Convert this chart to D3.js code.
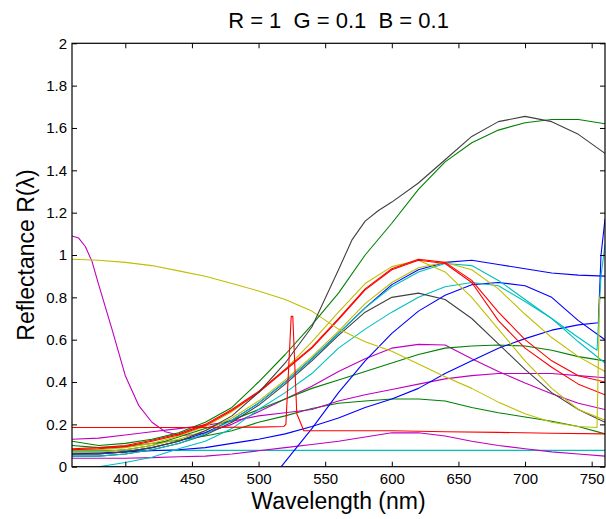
<!DOCTYPE html>
<html><head><meta charset="utf-8">
<script src="https://cdn.jsdelivr.net/npm/d3@7"></script>
<style>
body{margin:0;background:#fff}
svg{display:block}
text{font-family:"Liberation Sans",Arial,Helvetica,sans-serif;fill:#000;white-space:pre}
</style></head>
<body><svg id="chart" width="606" height="519"></svg>
<script>
// ---- data ----
const titleText = "R = 1  G = 0.1  B = 0.1";
const xLabel = "Wavelength (nm)";
const yLabel = "Reflectance R(\u03bb)";
const xTicks = [400,450,500,550,600,650,700,750];
const yTicks = [0,0.2,0.4,0.6,0.8,1,1.2,1.4,1.6,1.8,2];

const wl = [360,380,400,420,440,460,480,500,520,540,560,580,600,620,640,660,680,700,720,740,760];

const green1 = [0.12,0.10,0.11,0.13,0.16,0.21,0.28,0.40,0.53,0.67,0.82,1.00,1.15,1.31,1.44,1.53,1.59,1.625,1.64,1.64,1.62];
const green2 = [0.07,0.07,0.08,0.10,0.14,0.18,0.22,0.27,0.32,0.37,0.41,0.45,0.49,0.53,0.56,0.57,0.575,0.57,0.55,0.52,0.50];
const green3 = [0.10,0.09,0.095,0.11,0.125,0.145,0.17,0.21,0.24,0.275,0.30,0.31,0.32,0.32,0.31,0.28,0.255,0.235,0.215,0.19,0.155];
const magenta3 = [0.13,0.135,0.15,0.165,0.18,0.195,0.215,0.24,0.255,0.27,0.31,0.34,0.365,0.39,0.415,0.43,0.44,0.44,0.44,0.43,0.42];
const magenta4 = [0.04,0.04,0.04,0.043,0.047,0.05,0.06,0.075,0.09,0.105,0.12,0.14,0.16,0.16,0.145,0.12,0.10,0.085,0.07,0.06,0.05];
const cyanFlat = [0.077,0.077,0.077,0.077,0.077,0.077,0.077,0.077,0.077,0.077,0.077,0.077,0.077,0.077,0.077,0.077,0.077,0.077,0.077,0.077,0.077];
const red1   = [0.085,0.09,0.10,0.125,0.155,0.20,0.27,0.355,0.46,0.565,0.70,0.84,0.935,0.98,0.965,0.88,0.73,0.60,0.50,0.43,0.40];
const red2   = [0.08,0.085,0.095,0.12,0.15,0.195,0.265,0.35,0.455,0.56,0.695,0.835,0.93,0.975,0.96,0.87,0.69,0.56,0.47,0.39,0.34];
const yellow2 = [0.08,0.08,0.09,0.11,0.145,0.19,0.26,0.35,0.46,0.59,0.73,0.865,0.945,0.975,0.92,0.80,0.65,0.50,0.37,0.27,0.22];
const yellow3 = [0.07,0.07,0.08,0.10,0.13,0.17,0.23,0.31,0.41,0.52,0.64,0.77,0.87,0.94,0.965,0.93,0.84,0.72,0.61,0.52,0.45];
const blue3  = [0.06,0.06,0.07,0.09,0.12,0.16,0.22,0.30,0.40,0.51,0.63,0.75,0.86,0.93,0.965,0.975,0.955,0.935,0.915,0.905,0.90];
const gray2  = [0.05,0.05,0.06,0.08,0.11,0.15,0.21,0.29,0.39,0.50,0.62,0.73,0.80,0.82,0.79,0.70,0.58,0.46,0.35,0.27,0.21];

// series with their own wavelength samples
const wlGray1 = [360,380,400,420,440,460,480,500,520,540,560,570,580,590,600,620,640,660,680,700,720,740,760];
const gray1   = [0.06,0.06,0.07,0.09,0.12,0.17,0.24,0.35,0.49,0.66,0.93,1.07,1.16,1.21,1.25,1.34,1.45,1.56,1.63,1.655,1.63,1.57,1.48];

const wlYellow1 = [360,380,400,420,440,460,480,500,520,540,560,580,600,620,640,660,680,700,720,740,754,756,760];
const yellow1   = [0.98,0.975,0.965,0.95,0.925,0.90,0.865,0.83,0.79,0.735,0.65,0.59,0.545,0.485,0.425,0.37,0.305,0.25,0.21,0.19,0.185,0.8,0.8];

const wlMagenta2 = [360,365,370,375,380,390,400,410,420,430,440,450,460,480,500,520,540,560,580,600,620,640,660,680,700,720,740,760];
const magenta2   = [1.09,1.08,1.04,0.97,0.86,0.65,0.43,0.29,0.21,0.165,0.15,0.15,0.16,0.20,0.26,0.32,0.38,0.45,0.51,0.56,0.578,0.575,0.51,0.45,0.395,0.345,0.30,0.27];

const wlRedSpike = [360,400,450,500,519,520.5,524.5,525.7,528.7,534,560,600,640,680,720,760];
const redSpike   = [0.185,0.185,0.185,0.187,0.19,0.2,0.71,0.71,0.25,0.17,0.17,0.17,0.165,0.162,0.158,0.155];

const wlBlue1 = [517,540,560,580,600,620,640,660,680,700,720,740,760];
const blue1   = [0,0.18,0.35,0.50,0.63,0.735,0.81,0.86,0.87,0.855,0.80,0.69,0.60];

const wlBlue2 = [360,380,400,420,440,460,480,500,520,540,560,580,600,620,640,660,680,700,720,740,755,757,760];
const blue2   = [0.06,0.065,0.07,0.075,0.08,0.09,0.11,0.13,0.155,0.19,0.23,0.28,0.32,0.37,0.44,0.50,0.56,0.605,0.645,0.67,0.68,1.0,1.17];

const wlCyan2 = [360,380,400,420,440,460,480,500,520,540,560,580,600,620,640,660,680,700,720,740,754,757,760];
const cyan2   = [0.05,0.05,0.06,0.08,0.11,0.155,0.22,0.30,0.40,0.51,0.63,0.75,0.85,0.92,0.96,0.95,0.88,0.79,0.70,0.61,0.55,0.9,1.05];

const wlCyan3 = [370,380,400,420,440,460,480,500,520,540,560,580,600,620,640,660,680,700,720,740,760];
const cyan3   = [-0.02,0,0.02,0.045,0.085,0.12,0.18,0.27,0.35,0.44,0.56,0.65,0.73,0.80,0.85,0.87,0.855,0.78,0.70,0.59,0.49];

// MATLAB classic colour order
const C = {b:"#0000ff", g:"#008000", r:"#ff0000", c:"#00bfbf", m:"#bf00bf", y:"#bfbf00", k:"#404040"};

const series = [
  {x: wl, y: cyanFlat, color: C.c},
  {x: wl, y: magenta4, color: C.m},
  {x: wl, y: green3, color: C.g},
  {x: wl, y: magenta3, color: C.m},
  {x: wlMagenta2, y: magenta2, color: C.m},
  {x: wl, y: green2, color: C.g},
  {x: wlBlue2, y: blue2, color: C.b},
  {x: wlBlue1, y: blue1, color: C.b},
  {x: wlCyan3, y: cyan3, color: C.c},
  {x: wl, y: gray2, color: C.k},
  {x: wl, y: blue3, color: C.b},
  {x: wlCyan2, y: cyan2, color: C.c},
  {x: wl, y: yellow3, color: C.y},
  {x: wl, y: yellow2, color: C.y},
  {x: wl, y: red2, color: C.r},
  {x: wl, y: red1, color: C.r},
  {x: wlYellow1, y: yellow1, color: C.y},
  {x: wl, y: green1, color: C.g},
  {x: wlGray1, y: gray1, color: C.k},
  {x: wlRedSpike, y: redSpike, color: C.r}
];

// ---- layout ----
const svg = d3.select("#chart");
const L = 72, R = 605, T = 43.3, B = 466.7;
const xs = d3.scaleLinear().domain([360,760]).range([L,R]);
const ys = d3.scaleLinear().domain([0,2]).range([B,T]);

svg.append("defs").append("clipPath").attr("id","clip")
  .append("rect").attr("x",L).attr("y",T).attr("width",R-L).attr("height",B-T);

const line = d3.line().x(d=>xs(d[0])).y(d=>ys(d[1]));
const plotG = svg.append("g").attr("clip-path","url(#clip)");
series.forEach(s=>{
  plotG.append("path").datum(s.x.map((v,i)=>[v,s.y[i]]))
    .attr("d",line).attr("fill","none").attr("stroke",s.color).attr("stroke-width",1.1)
    .attr("stroke-linejoin","round");
});

// axes
const fmt = d=>d3.format("~g")(d);
const tl = 5;
const axB = svg.append("g").attr("transform",`translate(0,${B})`)
  .call(d3.axisBottom(xs).tickValues(xTicks).tickSizeInner(-tl).tickSizeOuter(0).tickPadding(7).tickFormat(fmt));
const axT = svg.append("g").attr("transform",`translate(0,${T})`)
  .call(d3.axisTop(xs).tickValues(xTicks).tickSizeInner(-tl).tickSizeOuter(0).tickFormat(""));
const axL = svg.append("g").attr("transform",`translate(${L},0)`)
  .call(d3.axisLeft(ys).tickValues(yTicks).tickSizeInner(-tl).tickSizeOuter(0).tickPadding(5).tickFormat(fmt));
const axR = svg.append("g").attr("transform",`translate(${R},0)`)
  .call(d3.axisRight(ys).tickValues(yTicks).tickSizeInner(-tl).tickSizeOuter(0).tickFormat(""));
[axB,axT,axL,axR].forEach(a=>{
  a.select(".domain").remove();
  a.selectAll(".tick line").attr("stroke","#000").attr("stroke-width",1);
  a.selectAll(".tick text").attr("font-size",15).attr("font-family","'Liberation Sans',Arial,sans-serif").attr("fill","#000");
});
svg.append("rect").attr("x",L).attr("y",T).attr("width",R-L).attr("height",B-T)
  .attr("fill","none").attr("stroke","#000").attr("stroke-width",1.2);

svg.append("text").attr("x",(L+R)/2).attr("y",28).attr("text-anchor","middle")
  .attr("xml:space","preserve").attr("font-size",22).text(titleText);
svg.append("text").attr("x",(L+R)/2).attr("y",509).attr("text-anchor","middle")
  .attr("font-size",23).text(xLabel);
svg.append("text").attr("transform",`translate(34,${(T+B)/2}) rotate(-90)`).attr("text-anchor","middle")
  .attr("font-size",23).text(yLabel);
</script></body></html>
